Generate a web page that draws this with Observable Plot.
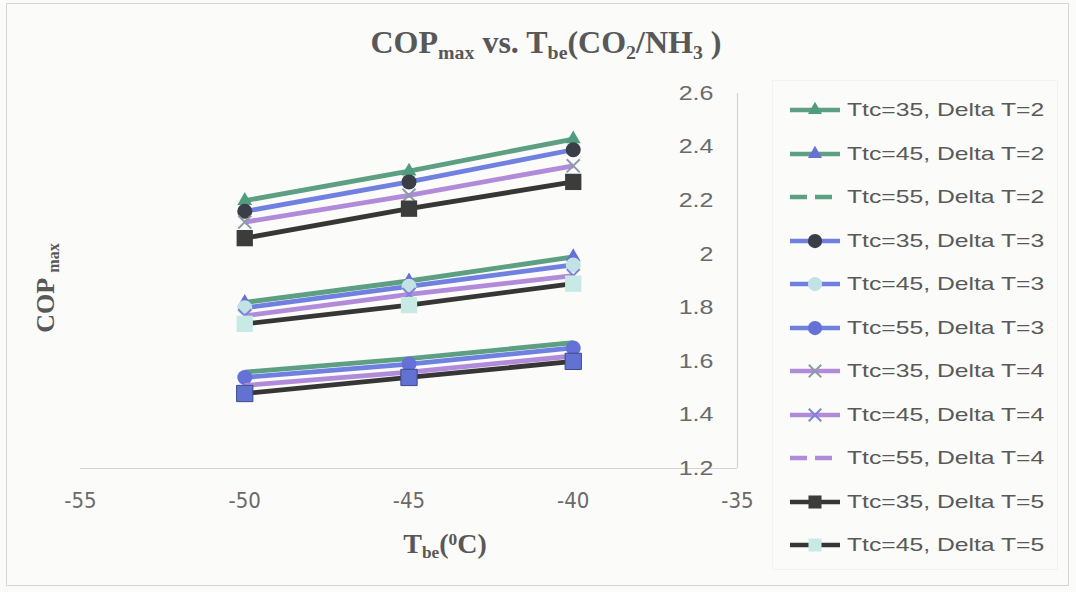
<!DOCTYPE html>
<html>
<head>
<meta charset="utf-8">
<script src="https://cdn.jsdelivr.net/npm/d3@7"></script>
<script src="https://cdn.jsdelivr.net/npm/@observablehq/plot@0.6"></script>
<style>
  html, body { margin: 0; padding: 0; background: #fbfbf9; }
  #wrap { position: relative; width: 1076px; height: 592px; overflow: hidden; }
  #frame { position: absolute; left: 6px; top: 3px; width: 1063px; height: 583px; border: 1.5px solid #d6d6d6; box-sizing: border-box; }
  #legendBox { position: absolute; left: 772px; top: 80px; width: 286px; height: 490px; border: 1px solid #f3f3f1; box-sizing: border-box; }
  .serif { font-family: "Liberation Serif", "Times New Roman", serif; font-weight: bold; color: #585858; }
  #title { position: absolute; left: 0; top: 26px; width: 1092px; text-align: center; font-size: 32px; line-height: 32px; white-space: nowrap; }
  #xtitle { position: absolute; left: 345px; top: 530px; width: 200px; text-align: center; font-size: 28px; line-height: 28px; white-space: nowrap; }
  #ytitle { position: absolute; left: 47px; top: 288px; transform: translate(-50%, -50%) rotate(-90deg); font-size: 26px; line-height: 26px; white-space: nowrap; }
  .sub { font-size: 0.62em; position: relative; top: 0.28em; }
  .sup { font-size: 0.62em; position: relative; top: -0.45em; }
  .leg { position: absolute; left: 788px; height: 30px; display: flex; align-items: center; }
  .leg svg { flex: none; }
  .leg span { display: inline-block; font-family: "Liberation Sans", Arial, sans-serif; font-size: 19px; color: #595959; transform: scaleX(1.3); transform-origin: left center; margin-left: 5px; white-space: nowrap; }
  #chart { position: absolute; left: 0; top: 0; }
</style>
</head>
<body>
<div id="wrap">
  <div id="frame"></div>
  <div id="legendBox"></div>
  <div id="title" class="serif">COP<span class="sub">max</span> vs. T<span class="sub">be</span>(CO<span class="sub">2</span>/NH<span class="sub">3</span> )</div>
  <div id="xtitle" class="serif">T<span class="sub">be</span>(<span class="sup">0</span>C)</div>
  <div id="ytitle" class="serif">COP <span class="sub">max</span></div>
  <div id="chart"></div>
</div>
<script>
// ---------- data ----------
const tbe = [-50, -45, -40];
const xTicks = [-55, -50, -45, -40, -35];
const yTicks = [1.2, 1.4, 1.6, 1.8, 2.0, 2.2, 2.4, 2.6];

const seriesLabels = [
  "Ttc=35, Delta T=2", "Ttc=45, Delta T=2", "Ttc=55, Delta T=2",
  "Ttc=35, Delta T=3", "Ttc=45, Delta T=3", "Ttc=55, Delta T=3",
  "Ttc=35, Delta T=4", "Ttc=45, Delta T=4", "Ttc=55, Delta T=4",
  "Ttc=35, Delta T=5", "Ttc=45, Delta T=5", "Ttc=55, Delta T=5"
];

const cop_35_2 = [2.20, 2.31, 2.43];
const cop_45_2 = [1.82, 1.90, 1.99];
const cop_55_2 = [1.56, 1.61, 1.67];
const cop_35_3 = [2.16, 2.27, 2.39];
const cop_45_3 = [1.80, 1.88, 1.96];
const cop_55_3 = [1.54, 1.59, 1.65];
const cop_35_4 = [2.12, 2.22, 2.33];
const cop_45_4 = [1.77, 1.85, 1.92];
const cop_55_4 = [1.51, 1.56, 1.62];
const cop_35_5 = [2.06, 2.17, 2.27];
const cop_45_5 = [1.74, 1.81, 1.89];
const cop_55_5 = [1.48, 1.54, 1.60];

const seriesValues = [
  cop_35_2, cop_45_2, cop_55_2,
  cop_35_3, cop_45_3, cop_55_3,
  cop_35_4, cop_45_4, cop_55_4,
  cop_35_5, cop_45_5, cop_55_5
];
const legendCount = 11; // the last series is cut off in the legend

// ---------- styles ----------
const GREEN = "#5c9f82", BLUE = "#6f80e0", PURPLE = "#b18ad9", DARK = "#363636";
const styles = [
  {line: GREEN, symbol: "triangle", fill: "#4f9d7e", r: 5.5},
  {line: GREEN, symbol: "triangle", fill: "#6571d6", r: 5.5},
  {line: GREEN, dash: true},
  {line: BLUE, symbol: "circle", fill: "#3b3e47", r: 7.5},
  {line: BLUE, symbol: "circle", fill: "#c3e2e6", r: 7.5},
  {line: BLUE, symbol: "circle", fill: "#6571d6", r: 7.5},
  {line: PURPLE, symbol: "times", stroke: "#8c9bab", r: 6},
  {line: PURPLE, symbol: "times", stroke: "#7d84d8", r: 6},
  {line: PURPLE, dash: true},
  {line: DARK, symbol: "square", fill: "#3c3c3c", r: 9.2},
  {line: DARK, symbol: "square", fill: "#c7ebe4", r: 9.2},
  {line: DARK, symbol: "square", fill: "#6272d2", r: 9.2, outline: "#3f4a85"}
];

// ---------- marks ----------
const marks = [
  Plot.ruleY([1.2], {x1: xTicks[0], x2: xTicks[xTicks.length - 1], stroke: "#d4d4d4", strokeWidth: 1.2}),
  Plot.ruleX([xTicks[xTicks.length - 1]], {y1: yTicks[0], y2: yTicks[yTicks.length - 1], stroke: "#d4d4d4", strokeWidth: 1.2}),
  Plot.axisX({
    ticks: xTicks, tickSize: 0, tickPadding: 24, label: null,
    fontSize: 22, fontFamily: "'Liberation Sans Narrow', 'Arial Narrow', 'DejaVu Sans Condensed', sans-serif",
    fill: "#6a6a6a", tickFormat: d => String(d)
  }),
  Plot.axisY({
    ticks: yTicks, anchor: "right", tickSize: 0, tickPadding: 0, dx: -24, textAnchor: "end", label: null,
    fontSize: 20, fontFamily: "'Liberation Sans', Arial, sans-serif", fill: "#6a6a6a",
    tickFormat: d => String(+d.toFixed(1))
  })
];

seriesValues.forEach((vals, i) => {
  const s = styles[i];
  const pts = tbe.map((x, j) => ({x, y: vals[j], series: seriesLabels[i]}));
  marks.push(Plot.line(pts, {
    x: "x", y: "y", stroke: s.line, strokeWidth: 4.8,
    strokeLinecap: "butt", strokeLinejoin: "round"
  }));
  if (s.symbol) {
    if (s.symbol === "times") {
      marks.push(Plot.dot(pts, {x: "x", y: "y", symbol: "times", r: s.r, stroke: s.stroke, strokeWidth: 2, fill: "none"}));
    } else {
      marks.push(Plot.dot(pts, {
        x: "x", y: "y", symbol: s.symbol, r: s.r, fill: s.fill,
        stroke: s.outline || "none", strokeWidth: s.outline ? 1 : 0
      }));
    }
  }
});

const plot = Plot.plot({
  width: 760,
  height: 592,
  marginLeft: 80,
  marginRight: 23,
  marginTop: 93,
  marginBottom: 124,
  x: {domain: [xTicks[0], xTicks[xTicks.length - 1]]},
  y: {domain: [yTicks[0], yTicks[yTicks.length - 1]]},
  style: {background: "transparent", overflow: "visible"},
  marks
});
document.getElementById("chart").appendChild(plot);

// stretch the y tick labels horizontally like the reference
plot.querySelectorAll('[aria-label="y-axis tick label"] text').forEach(t => {
  const w = t.getComputedTextLength();
  t.setAttribute("textLength", (w * 1.25).toFixed(1));
  t.setAttribute("lengthAdjust", "spacingAndGlyphs");
});

// ---------- legend ----------
const wrap = document.getElementById("wrap");
const symbolTypes = {triangle: d3.symbolTriangle, circle: d3.symbolCircle, times: d3.symbolTimes, square: d3.symbolSquare};
for (let i = 0; i < legendCount; i++) {
  const s = styles[i];
  const row = document.createElement("div");
  row.className = "leg";
  row.style.top = (110 + i * 43.5 - 15) + "px";
  const ns = "http://www.w3.org/2000/svg";
  const svg = document.createElementNS(ns, "svg");
  svg.setAttribute("width", 54);
  svg.setAttribute("height", 30);
  const ln = document.createElementNS(ns, "line");
  ln.setAttribute("x1", 2); ln.setAttribute("x2", 52);
  ln.setAttribute("y1", 15); ln.setAttribute("y2", 15);
  ln.setAttribute("stroke", s.line);
  ln.setAttribute("stroke-width", 4.5);
  if (s.dash) ln.setAttribute("stroke-dasharray", "17,8");
  svg.appendChild(ln);
  if (s.symbol) {
    const area = Math.PI * Math.pow(s.r * (s.symbol === "square" ? 0.8 : 0.95), 2);
    const p = document.createElementNS(ns, "path");
    p.setAttribute("d", d3.symbol(symbolTypes[s.symbol], area)());
    p.setAttribute("transform", "translate(27,15)");
    if (s.symbol === "times") {
      p.setAttribute("fill", "none");
      p.setAttribute("stroke", s.stroke);
      p.setAttribute("stroke-width", 2);
    } else {
      p.setAttribute("fill", s.fill);
    }
    svg.appendChild(p);
  }
  row.appendChild(svg);
  const sp = document.createElement("span");
  sp.textContent = seriesLabels[i];
  row.appendChild(sp);
  wrap.appendChild(row);
}
</script>
</body>
</html>
